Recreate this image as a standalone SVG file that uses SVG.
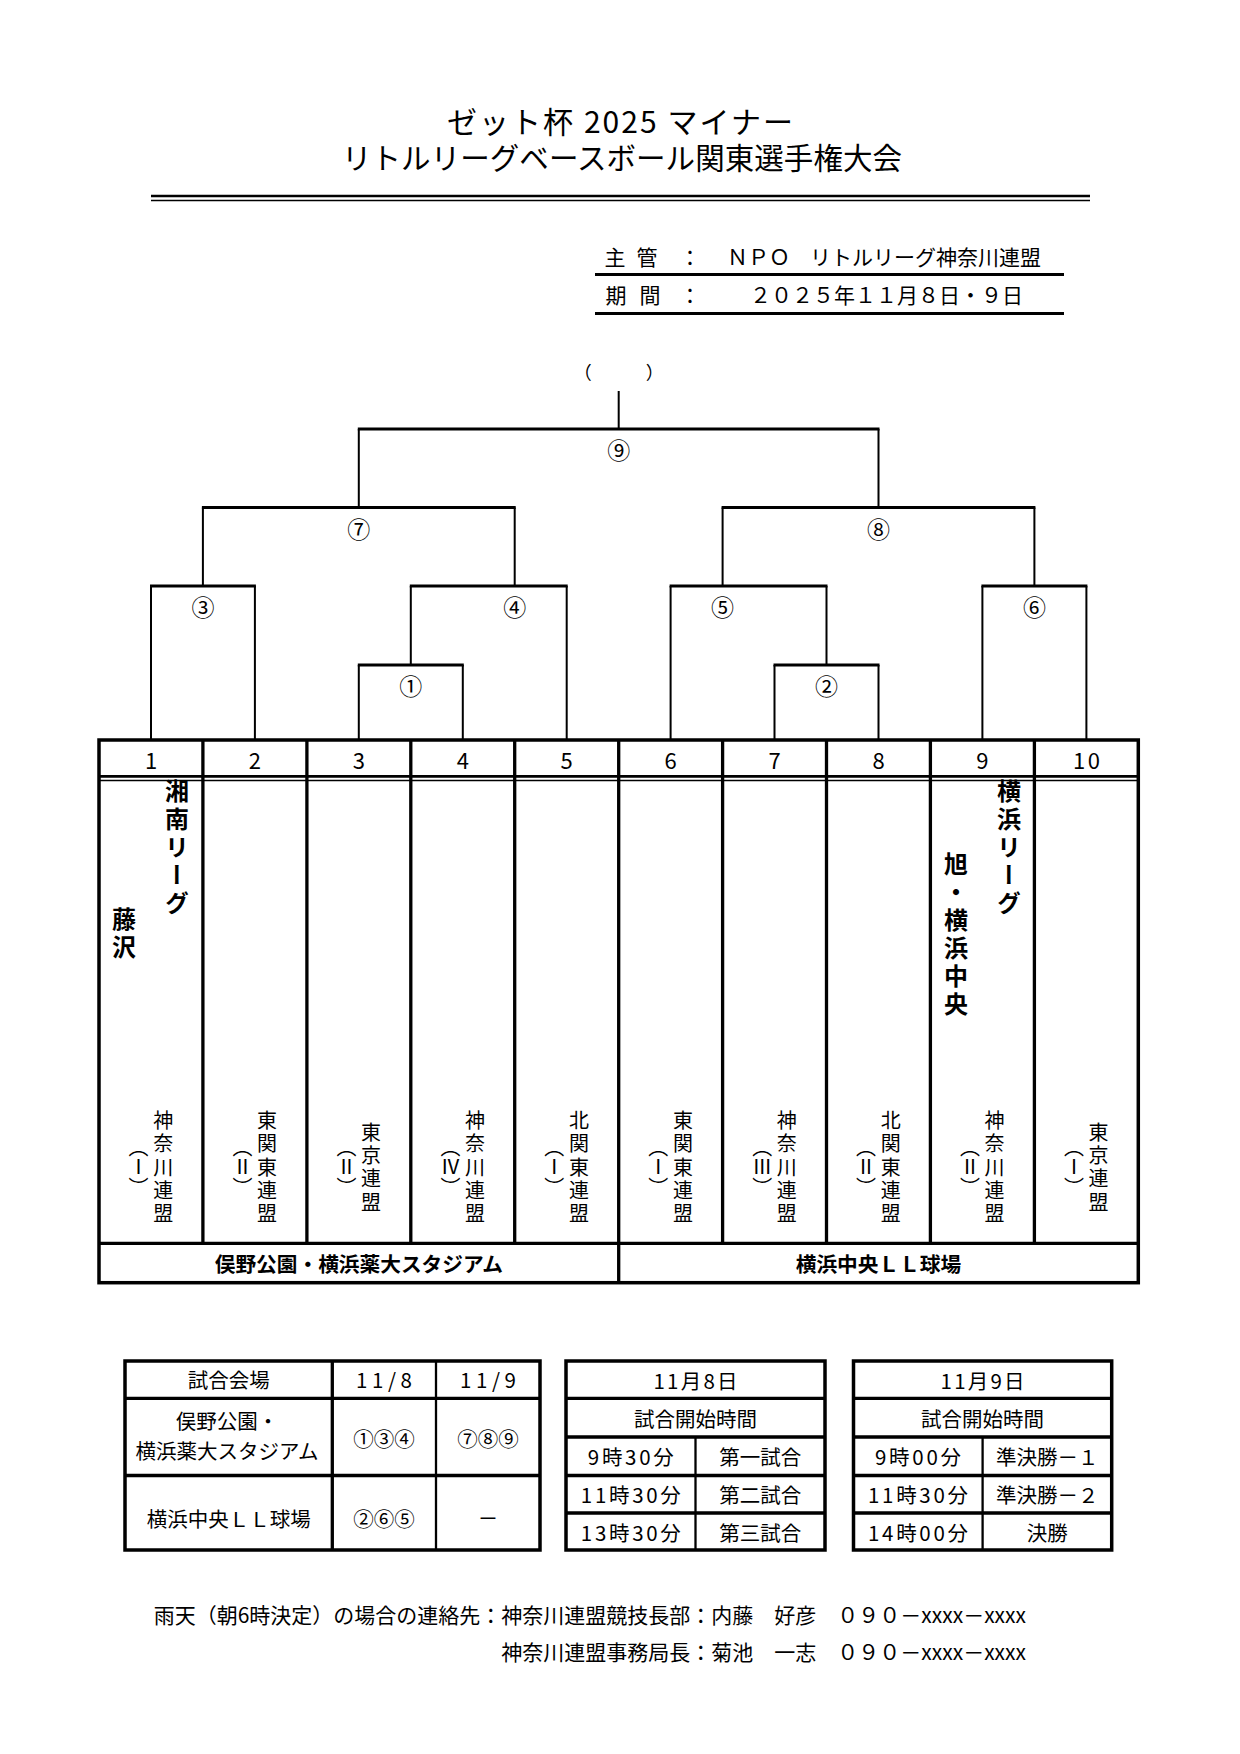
<svg xmlns="http://www.w3.org/2000/svg" width="1240" height="1754" viewBox="0 0 1240 1754">
<style>
text{font-family:"Noto Sans CJK JP","Noto Sans",sans-serif;fill:#000}
.c{text-anchor:middle;dominant-baseline:central}
.s{dominant-baseline:central}
.e{text-anchor:end;dominant-baseline:central}
.v{writing-mode:vertical-rl}
.big{font-size:24px;font-weight:bold}
.sm{font-size:20px}
.num{font-size:22px}
.lab{font-size:23px}
.f21{font-size:21px}
.f20{font-size:20.5px}
.b{font-weight:bold}
.hl{stroke:#000;stroke-width:3;fill:none}
.vl{stroke:#000;stroke-width:2;fill:none}
.frame{stroke:#000;stroke-width:3.5;fill:none}
.tl{stroke:#000;stroke-width:3.3;fill:none}
.tt{stroke:#000;stroke-width:2.3;fill:none}
</style>
<rect width="1240" height="1754" fill="#fff"/>

<g id="title">
<text class="c" x="620" y="120" font-size="30" textLength="346" lengthAdjust="spacing">ゼット杯 2025 マイナー</text>
<text class="c" x="622" y="156" font-size="29.5" textLength="560" lengthAdjust="spacing">リトルリーグベースボール関東選手権大会</text>
<path d="M151 196 H1090" stroke="#000" stroke-width="2.5"/>
<path d="M151 200.5 H1090" stroke="#000" stroke-width="1.5"/>
</g>

<g id="organizer">
<text class="c f21" x="615" y="256">主</text>
<text class="c f21" x="647" y="256">管</text>
<text class="c f21" x="690" y="256">：</text>
<text class="s f21" x="727" y="256">ＮＰＯ</text>
<text class="s f21" x="810" y="256">リトルリーグ神奈川連盟</text>
<path d="M595 274.5 H1064" stroke="#000" stroke-width="3"/>
<text class="c f21" x="616" y="294">期</text>
<text class="c f21" x="650" y="294">間</text>
<text class="c f21" x="690" y="294">：</text>
<text class="s f21" x="750" y="294">２０２５年１１月８日・９日</text>
<path d="M595 313.5 H1064" stroke="#000" stroke-width="3"/>
</g>

<g id="connectors">
<path class="hl" d="M357.8 429 H879.5 M201.9 507.5 H515.7 M721.6 507.5 H1035.4 M150 586 H255.9 M409.8 586 H567.7 M669.6 586 H827.5 M981.4 586 H1087.4 M357.8 665 H463.8 M773.5 665 H879.5"/>
<path class="vl" d="M618.7 391 V429 M358.8 429 V507.5 M878.5 429 V507.5 M202.9 507.5 V586 M514.7 507.5 V586 M722.6 507.5 V586 M1034.4 507.5 V586 M410.8 586 V665 M826.5 586 V665 M151 586 V740 M254.9 586 V740 M358.8 665 V740 M462.8 665 V740 M566.7 586 V740 M670.6 586 V740 M774.5 665 V740 M878.5 665 V740 M982.4 586 V740 M1086.4 586 V740"/>
</g>

<g id="champion">
<text class="c" x="618.7" y="371" font-size="18">（　　　）</text>
</g>
<g id="match-9"><text class="c lab" x="618.7" y="449">⑨</text></g>
<g id="match-7"><text class="c lab" x="358.8" y="527.5">⑦</text></g>
<g id="match-8"><text class="c lab" x="878.5" y="527.5">⑧</text></g>
<g id="match-3"><text class="c lab" x="202.9" y="606">③</text></g>
<g id="match-4"><text class="c lab" x="514.7" y="606">④</text></g>
<g id="match-5"><text class="c lab" x="722.6" y="606">⑤</text></g>
<g id="match-6"><text class="c lab" x="1034.4" y="606">⑥</text></g>
<g id="match-1"><text class="c lab" x="410.8" y="685">①</text></g>
<g id="match-2"><text class="c lab" x="826.5" y="685">②</text></g>

<g id="draw-table">
<rect class="frame" x="99" y="740" width="1039.3" height="542.7"/>
<path class="tl" d="M202.9 740 V1243.3 M306.9 740 V1243.3 M410.8 740 V1243.3 M514.7 740 V1243.3 M618.7 740 V1282.7 M722.6 740 V1243.3 M826.5 740 V1243.3 M930.4 740 V1243.3 M1034.4 740 V1243.3 M99 1243.3 H1138.3"/>
<path d="M99 776.3 H1138.3" stroke="#000" stroke-width="2.7"/>
<path d="M99 780.4 H1138.3" stroke="#000" stroke-width="1.5"/>
</g>

<g id="team-1">
<text class="c num" x="151" y="759">1</text>
<text class="v big" x="177" y="779 807 835 863 891">湘南リーグ</text>
<text class="v big" x="124" y="907 935">藤沢</text>
<text class="v sm" x="163.2" y="1110.4 1133.7 1157 1180.3 1203.6">神奈川連盟</text>
<text class="v sm" x="138.6" y="1137 1157 1177">（Ⅰ）</text>
</g>
<g id="team-2">
<text class="c num" x="254.9" y="759">2</text>
<text class="v sm" x="267.1" y="1110.4 1133.7 1157 1180.3 1203.6">東関東連盟</text>
<text class="v sm" x="242.5" y="1137 1157 1177">（Ⅱ）</text>
</g>
<g id="team-3">
<text class="c num" x="358.8" y="759">3</text>
<text class="v sm" x="371.1" y="1122 1145.3 1168.7 1192">東京連盟</text>
<text class="v sm" x="346.5" y="1137 1157 1177">（Ⅱ）</text>
</g>
<g id="team-4">
<text class="c num" x="462.8" y="759">4</text>
<text class="v sm" x="475" y="1110.4 1133.7 1157 1180.3 1203.6">神奈川連盟</text>
<text class="v sm" x="450.4" y="1137 1157 1177">（Ⅳ）</text>
</g>
<g id="team-5">
<text class="c num" x="566.7" y="759">5</text>
<text class="v sm" x="578.9" y="1110.4 1133.7 1157 1180.3 1203.6">北関東連盟</text>
<text class="v sm" x="554.3" y="1137 1157 1177">（Ⅰ）</text>
</g>
<g id="team-6">
<text class="c num" x="670.6" y="759">6</text>
<text class="v sm" x="682.9" y="1110.4 1133.7 1157 1180.3 1203.6">東関東連盟</text>
<text class="v sm" x="658.3" y="1137 1157 1177">（Ⅰ）</text>
</g>
<g id="team-7">
<text class="c num" x="774.5" y="759">7</text>
<text class="v sm" x="786.8" y="1110.4 1133.7 1157 1180.3 1203.6">神奈川連盟</text>
<text class="v sm" x="762.2" y="1137 1157 1177">（Ⅲ）</text>
</g>
<g id="team-8">
<text class="c num" x="878.5" y="759">8</text>
<text class="v sm" x="890.7" y="1110.4 1133.7 1157 1180.3 1203.6">北関東連盟</text>
<text class="v sm" x="866.1" y="1137 1157 1177">（Ⅱ）</text>
</g>
<g id="team-9">
<text class="c num" x="982.4" y="759">9</text>
<text class="v big" x="1009" y="779 807 835 863 891">横浜リーグ</text>
<text class="v big" x="956" y="852 880 908 936 964 992">旭・横浜中央</text>
<text class="v sm" x="994.6" y="1110.4 1133.7 1157 1180.3 1203.6">神奈川連盟</text>
<text class="v sm" x="970" y="1137 1157 1177">（Ⅱ）</text>
</g>
<g id="team-10">
<text class="c num" x="1086.4" y="759" textLength="27" lengthAdjust="spacing">10</text>
<text class="v sm" x="1098.6" y="1122 1145.3 1168.7 1192">東京連盟</text>
<text class="v sm" x="1074" y="1137 1157 1177">（Ⅰ）</text>
</g>

<g id="venue-a"><text class="c b" x="358.8" y="1263" font-size="20.7">俣野公園・横浜薬大スタジアム</text></g>
<g id="venue-b"><text class="c b" x="878.5" y="1263" font-size="20.7">横浜中央ＬＬ球場</text></g>

<g id="venue-table">
<rect class="frame" x="125" y="1361" width="415" height="189"/>
<path class="tl" d="M332.3 1361 V1550 M125 1398.3 H540 M125 1475.5 H540"/>
<path class="tt" d="M436 1361 V1550"/>
<text class="c f20" x="228.7" y="1378.5">試合会場</text>
<text class="c f20" x="384" y="1378.5" textLength="56" lengthAdjust="spacing">11/8</text>
<text class="c f20" x="488" y="1378.5" textLength="56" lengthAdjust="spacing">11/9</text>
<text class="c f20" x="227" y="1420">俣野公園・</text>
<text class="c f20" x="227" y="1450">横浜薬大スタジアム</text>
<text class="c f20" x="384" y="1438" font-size="22">①③④</text>
<text class="c f20" x="488" y="1438" font-size="22">⑦⑧⑨</text>
<text class="c f20" x="228.7" y="1518">横浜中央ＬＬ球場</text>
<text class="c f20" x="384" y="1518" font-size="22">②⑥⑤</text>
<text class="c f20" x="488" y="1517">－</text>
</g>

<g id="schedule-day1">
<rect class="frame" x="566" y="1361" width="259" height="189"/>
<path class="tl" d="M566 1398.3 H825 M566 1437 H825 M566 1475.5 H825 M566 1513 H825"/>
<path class="tt" d="M695.5 1437 V1550"/>
<text class="c f20" x="695.5" y="1379.5" textLength="84" lengthAdjust="spacing">11月8日</text>
<text class="c f20" x="695.5" y="1417.7">試合開始時間</text>
<text class="c f20" x="630.8" y="1456.3" textLength="86" lengthAdjust="spacing">9時30分</text>
<text class="c f20" x="760.3" y="1456.3">第一試合</text>
<text class="c f20" x="630.8" y="1494.3" textLength="100" lengthAdjust="spacing">11時30分</text>
<text class="c f20" x="760.3" y="1494.3">第二試合</text>
<text class="c f20" x="630.8" y="1531.5" textLength="100" lengthAdjust="spacing">13時30分</text>
<text class="c f20" x="760.3" y="1531.5">第三試合</text>
</g>

<g id="schedule-day2">
<rect class="frame" x="853.5" y="1361" width="258.2" height="189"/>
<path class="tl" d="M853.5 1398.3 H1111.7 M853.5 1437 H1111.7 M853.5 1475.5 H1111.7 M853.5 1513 H1111.7"/>
<path class="tt" d="M982.6 1437 V1550"/>
<text class="c f20" x="982.6" y="1379.5" textLength="84" lengthAdjust="spacing">11月9日</text>
<text class="c f20" x="982.6" y="1417.7">試合開始時間</text>
<text class="c f20" x="918" y="1456.3" textLength="86" lengthAdjust="spacing">9時00分</text>
<text class="c f20" x="1047.2" y="1456.3">準決勝－１</text>
<text class="c f20" x="918" y="1494.3" textLength="100" lengthAdjust="spacing">11時30分</text>
<text class="c f20" x="1047.2" y="1494.3">準決勝－２</text>
<text class="c f20" x="918" y="1531.5" textLength="100" lengthAdjust="spacing">14時00分</text>
<text class="c f20" x="1047.2" y="1531.5">決勝</text>
</g>

<g id="footer">
<text class="e f21" x="1026" y="1613.5">雨天（朝6時決定）の場合の連絡先：神奈川連盟競技長部：内藤　好彦　０９０－xxxx－xxxx</text>
<text class="e f21" x="1026" y="1651">神奈川連盟事務局長：菊池　一志　０９０－xxxx－xxxx</text>
</g>
</svg>
